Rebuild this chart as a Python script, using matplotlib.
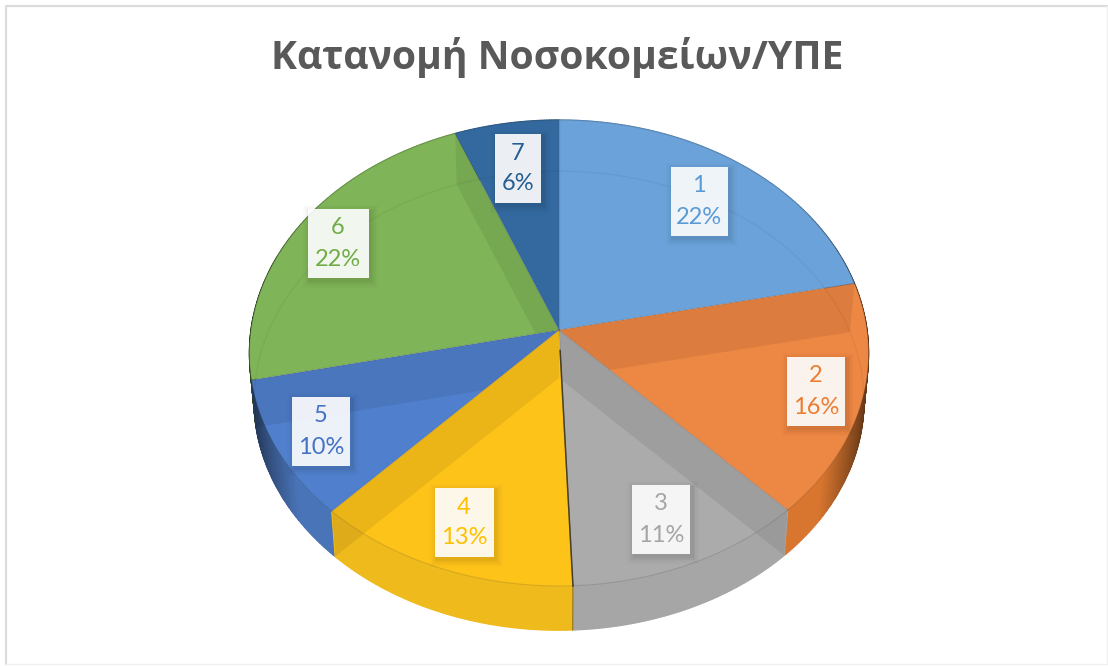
import numpy as np
import matplotlib
matplotlib.use("Agg")
import matplotlib.pyplot as plt
from matplotlib.collections import PolyCollection
from matplotlib.colors import to_rgb
from matplotlib.patches import Polygon, Rectangle

title = "Κατανομή Νοσοκομείων/ΥΠΕ"
slices = ["1", "2", "3", "4", "5", "6", "7"]
# the labels show these rounded
shares = [21.7, 16.2, 11.45, 12.65, 9.6, 22.4, 6.0]

top_colors = ["#6aa2d9", "#ed8744", "#ababab", "#fec319", "#5080cd", "#7fb458", "#33699e"]
text_colors = ["#5b9bd5", "#ed7d31", "#a5a5a5", "#ffc000", "#4472c4", "#70ad47", "#255e91"]
wall_colors = ["#5a8cc0", "#d8762f", "#a6a6a6", "#efba1c", "#4a74b8", "#6a9c48", "#2c5a88"]

# label boxes, pixel centre and width
box_x = [699, 816, 661, 464, 321, 338, 518]
box_y = [201, 391, 519, 522, 431, 243, 168]
box_w = [57, 58, 58, 59, 58, 61, 46]
box_h = 69

# pie geometry in pixels
cx, cy = 559, 330
rx, ry = 308, 230.7
persp = 0.0987
depth = 48
shrink = 0.985


def rim(frac):
    # frac is the share of the circle, clockwise from 12 o'clock
    t = 2 * np.pi * np.asarray(frac, dtype=float)
    w = 1 + persp * np.cos(t)
    return cx + rx * np.sin(t) / w, cy - ry * np.cos(t) / w


def low(x, y):
    return cx + shrink * (x - cx), cy + depth + shrink * (y - cy)


fig = plt.figure(figsize=(11.08, 6.66), dpi=100)
ax = fig.add_axes([0, 0, 1, 1])
ax.set_xlim(0, 1108)
ax.set_ylim(666, 0)
ax.axis("off")

# chart frame
ax.plot([5.5, 5.5, 1107], [664, 5.5, 5.5], color="#dcdcdc", lw=1.6)
ax.plot([5.5, 1107, 1107], [664, 664, 5.5], color="#f0f0f0", lw=1)

edges = np.cumsum([0] + shares) / sum(shares)

# outer wall, back to front
quads = []
quad_cols = []
order = []
for i in range(len(shares)):
    n = max(int((edges[i + 1] - edges[i]) * 720), 2)
    f = np.linspace(edges[i], edges[i + 1], n + 1)
    x, y = rim(f)
    lx, ly = low(x, y)
    for j in range(n):
        quads.append([(x[j], y[j]), (x[j + 1], y[j + 1]), (lx[j + 1], ly[j + 1]), (lx[j], ly[j])])
        mid = (f[j] + f[j + 1]) / 2
        s = abs(np.sin(2 * np.pi * mid))
        shade = 1 - 0.6 * max(s - 0.8, 0) / 0.2
        quad_cols.append(tuple(c * shade for c in to_rgb(wall_colors[i])))
        order.append(-np.cos(2 * np.pi * mid))
idx = np.argsort(order)
walls = PolyCollection([quads[k] for k in idx], facecolors=[quad_cols[k] for k in idx],
                       edgecolors=[quad_cols[k] for k in idx], linewidths=1.0)
ax.add_collection(walls)

# top faces with the see-through cut walls on them
for i in range(len(shares)):
    f = np.linspace(edges[i], edges[i + 1], 200)
    x, y = rim(f)
    pts = [(cx, cy)] + list(zip(x, y))
    face = Polygon(pts, closed=True, fc=top_colors[i], ec="none", zorder=2)
    ax.add_patch(face)

    # back rim of the lower face
    bx, by = low(*rim(np.linspace(-0.27, 0.27, 300)))
    ring, = ax.plot(bx, by, color="black", alpha=0.04, lw=1.1, zorder=3)
    ring.set_clip_path(face)

    if i in (1, 2, 3, 4, 5):
        e = edges[i] if i in (1, 2) else edges[i + 1]
        ex, ey = rim(e)
        lx, ly = low(ex, ey)
        quad = [(cx, cy), (ex, ey), (lx, ly), (cx, cy + depth)]
        band = Polygon(quad, closed=True, fc="black", alpha=0.07, ec="none", zorder=3)
        ax.add_patch(band)
        band.set_clip_path(face)
        # the same band carries on through the outer wall
        lo_x, lo_y = low(x, y)
        wall_pts = list(zip(x, y)) + list(zip(lo_x[::-1], lo_y[::-1]))
        wall_clip = Polygon(wall_pts, closed=True, fc="none", ec="none", zorder=1)
        ax.add_patch(wall_clip)
        band2 = Polygon(quad, closed=True, fc="black", alpha=0.07, ec="none", zorder=1.5)
        ax.add_patch(band2)
        band2.set_clip_path(wall_clip)

# edge lines on the top face
for i in range(len(shares)):
    ex, ey = rim(edges[i])
    ax.plot([cx, ex], [cy, ey], color="#3a3a3a", alpha=0.18, lw=0.9, zorder=4)
    x, y = rim(np.linspace(edges[i], edges[i + 1], 200))
    ax.plot(x, y, color="#3a3a3a", alpha=0.16, lw=0.8, zorder=4)

# dark crack between slices 3 and 4
ex, ey = rim(edges[3])
lx, ly = low(ex, ey)
ax.plot([cx + 0.08 * (ex - cx), ex], [cy + 0.08 * (ey - cy), ey], color="#1c1a12", alpha=0.75, lw=1.1, zorder=4)
ax.plot([ex, lx], [ey, ly], color="#1c1a12", alpha=0.45, lw=0.8, zorder=4)

# data labels
for i in range(len(shares)):
    x0 = box_x[i] - box_w[i] / 2
    y0 = box_y[i] - box_h / 2
    for grow, a in zip([7, 5, 3, 1.5], [0.015, 0.025, 0.03, 0.04]):
        ax.add_patch(Rectangle((x0 - grow + 2, y0 - grow + 3), box_w[i] + 2 * grow, box_h + 2 * grow,
                               fc="black", ec="none", alpha=a, zorder=5))
    ax.add_patch(Rectangle((x0, y0), box_w[i], box_h, fc="white", ec="none", alpha=0.91, zorder=6))
    ax.text(box_x[i], box_y[i] - 15, slices[i], color=text_colors[i], fontsize=17,
            family="Lato", ha="center", va="center", zorder=7)
    ax.text(box_x[i], box_y[i] + 16, f"{shares[i]:.0f}%", color=text_colors[i], fontsize=17,
            family="Lato", ha="center", va="center", zorder=7)

ax.text(557, 57, title, color="#595959", fontsize=28.2, fontweight="bold",
        family=["Open Sans", "DejaVu Sans"], ha="center", va="center")

fig.savefig("out.png", dpi=100)
